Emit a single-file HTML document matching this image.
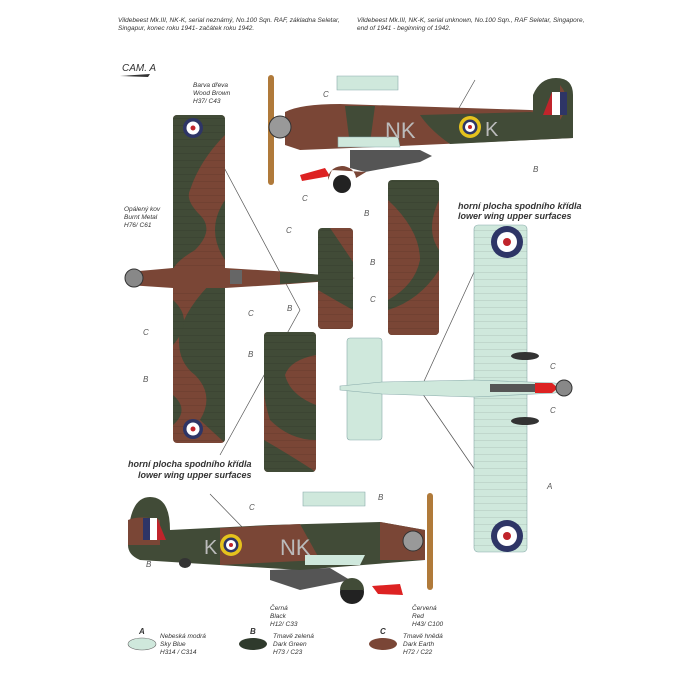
<!DOCTYPE html>
<html><head><meta charset="utf-8"><style>
body{margin:0;background:#fff;}
svg{display:block;font-family:"Liberation Sans",sans-serif;font-style:italic;}
</style></head><body>
<svg width="700" height="700" viewBox="0 0 700 700" xmlns="http://www.w3.org/2000/svg">
<defs>
<clipPath id="lw"><rect x="173" y="115" width="52" height="328" rx="4"/></clipPath>
<clipPath id="rw"><rect x="388" y="180" width="51" height="155" rx="4"/></clipPath>
<clipPath id="mw"><rect x="264" y="332" width="52" height="140" rx="4"/></clipPath>
<clipPath id="tw"><rect x="318" y="228" width="35" height="101" rx="4"/></clipPath>
<pattern id="ribs" width="10" height="7" patternUnits="userSpaceOnUse"><line x1="0" y1="6.5" x2="10" y2="6.5" stroke="#000" stroke-opacity="0.12" stroke-width="0.6"/></pattern>
</defs>
<g font-size="6.5" fill="#333">
<text x="118" y="22">Vildebeest Mk.III, NK-K, serial neznámý, No.100 Sqn. RAF, základna Seletar,</text>
<text x="118" y="30">Singapur, konec roku 1941- začátek roku 1942.</text>
<text x="357" y="22">Vildebeest Mk.III, NK-K, serial unknown, No.100 Sqn., RAF Seletar, Singapore,</text>
<text x="357" y="30">end of 1941 - beginning of 1942.</text>
</g>
<text x="122" y="71" font-size="10" fill="#333">CAM. A</text>
<path d="M120 76 L150 74 L148 77 Z" fill="#333"/>
<g stroke="#555" stroke-width="0.7" fill="none">
<line x1="220" y1="160" x2="300" y2="310"/><line x1="300" y1="310" x2="220" y2="455"/>
<line x1="475" y1="270" x2="420" y2="390"/><line x1="420" y1="390" x2="475" y2="470"/>
<line x1="475" y1="80" x2="455" y2="115"/>
<line x1="210" y1="494" x2="245" y2="530"/>
</g>
<g clip-path="url(#lw)">
<rect x="173" y="115" width="52" height="328" fill="#7a4636"/>
<path d="M173 115 L225 115 L225 135 Q200 160 190 190 Q185 200 200 215 Q215 230 195 250 Q175 262 173 270 Z" fill="#414b37"/>
<path d="M225 200 Q205 230 225 260 Z" fill="#414b37"/>
<path d="M225 270 Q190 300 180 330 Q175 360 195 375 Q215 395 200 420 L225 443 Z" fill="#414b37"/>
<path d="M173 300 Q195 320 173 345 Z" fill="#414b37"/>
<path d="M173 395 Q190 410 173 425 Z" fill="#414b37"/>
<rect x="173" y="115" width="52" height="328" fill="url(#ribs)"/>
</g>
<circle cx="193" cy="128" r="10" fill="#2e3566"/><circle cx="193" cy="128" r="6.5" fill="#fff"/><circle cx="193" cy="128" r="2.5" fill="#c0242b"/>
<circle cx="193" cy="429" r="10" fill="#2e3566"/><circle cx="193" cy="429" r="6.5" fill="#fff"/><circle cx="193" cy="429" r="2.5" fill="#c0242b"/>
<path d="M128 272 L173 268 L225 268 L290 272 L330 276 L355 278 L330 281 L290 284 L225 288 L173 288 L128 285 Z" fill="#7a4636"/>
<path d="M280 272 L340 276 L340 280 L280 284 Z" fill="#414b37"/>
<circle cx="134" cy="278" r="9" fill="#888" stroke="#333"/>
<rect x="230" y="270" width="12" height="14" fill="#666"/>
<g clip-path="url(#tw)">
<rect x="318" y="228" width="35" height="101" fill="#414b37"/>
<path d="M330 228 Q345 250 353 262 L353 228 Z M318 290 Q335 300 353 310 L353 329 L318 329 Z" fill="#7a4636"/>
<rect x="318" y="228" width="35" height="101" fill="url(#ribs)"/>
</g>
<g clip-path="url(#rw)">
<rect x="388" y="180" width="51" height="155" fill="#414b37"/>
<path d="M388 200 Q420 230 420 260 Q415 285 388 300 Z" fill="#7a4636"/>
<path d="M439 200 Q425 230 439 250 Z M388 310 Q420 300 439 270 L439 335 L388 335 Z" fill="#7a4636"/>
<rect x="388" y="180" width="51" height="155" fill="url(#ribs)"/>
</g>
<g clip-path="url(#mw)">
<rect x="264" y="332" width="52" height="140" fill="#7a4636"/>
<path d="M264 332 L316 332 L316 355 Q290 360 285 375 Q290 395 316 405 L316 440 Q290 440 270 420 Q264 400 264 390 Z" fill="#414b37"/>
<path d="M264 440 Q290 455 316 472 L264 472 Z" fill="#414b37"/>
<rect x="264" y="332" width="52" height="140" fill="url(#ribs)"/>
</g>
<!-- blue wing (under fuselage) -->
<rect x="474" y="225" width="53" height="327" rx="4" fill="#cfe8dc" stroke="#8aa" stroke-width="0.6"/>
<rect x="474" y="225" width="53" height="327" fill="url(#ribs)"/>
<circle cx="507" cy="242" r="16" fill="#2e3566"/><circle cx="507" cy="242" r="10" fill="#fff"/><circle cx="507" cy="242" r="4" fill="#c0242b"/>
<circle cx="507" cy="536" r="16" fill="#2e3566"/><circle cx="507" cy="536" r="10" fill="#fff"/><circle cx="507" cy="536" r="4" fill="#c0242b"/>
<rect x="347" y="338" width="35" height="102" rx="3" fill="#cfe8dc" stroke="#8aa" stroke-width="0.6"/>
<path d="M340 386 L382 382 L474 380 L555 383 L570 388 L555 393 L474 397 L382 394 L340 390 Z" fill="#cfe8dc" stroke="#8aa" stroke-width="0.6"/>
<rect x="490" y="384" width="55" height="8" fill="#555"/>
<path d="M535 383 L552 383 L558 388 L552 393 L535 393 Z" fill="#d22"/>
<circle cx="564" cy="388" r="8" fill="#888" stroke="#333"/>
<ellipse cx="525" cy="356" rx="14" ry="4" fill="#333"/>
<ellipse cx="525" cy="421" rx="14" ry="4" fill="#333"/>
<!-- top side view -->
<rect x="268" y="75" width="6" height="110" rx="3" fill="#b07a3a"/>
<path d="M337 76 L398 76 L398 90 L337 90 Z" fill="#cfe8dc" stroke="#8aa" stroke-width="0.6"/>
<path d="M350 150 L420 150 L432 156 L420 162 L365 172 L350 168 Z" fill="#555"/>
<path d="M300 175 L325 168 L330 176 L302 181 Z" fill="#d22"/>
<circle cx="342" cy="184" r="9" fill="#222"/><path d="M328 180 A13 12 0 0 1 356 178 L366 172 L332 170 Z" fill="#7a4636"/>
<path d="M285 112 Q300 104 340 104 L530 110 L573 112 L573 138 L400 146 L300 150 L285 145 Z" fill="#7a4636"/>
<path d="M420 115 L530 112 L573 115 L573 138 L450 144 Q430 130 420 115 Z" fill="#414b37"/>
<path d="M345 106 L375 106 L370 143 L350 145 Z" fill="#414b37"/>
<path d="M533 95 Q540 78 556 78 Q573 78 573 95 L573 120 L533 120 Z" fill="#414b37"/>
<path d="M560 85 Q573 100 560 120 Z" fill="#7a4636"/>
<rect x="552" y="92" width="8" height="23" fill="#fff"/><rect x="560" y="92" width="7" height="23" fill="#2e3566"/><path d="M552 92 L552 115 L543 115 Z" fill="#c0242b"/>
<circle cx="280" cy="127" r="11" fill="#999" stroke="#333"/>
<path d="M338 137 L398 137 L400 147 L338 147 Z" fill="#cfe8dc" stroke="#8aa" stroke-width="0.6"/>
<text x="385" y="138" font-size="22" font-style="normal" fill="#bbb">NK</text>
<circle cx="470" cy="127" r="11" fill="#e5c21d"/><circle cx="470" cy="127" r="7.5" fill="#2e3566"/><circle cx="470" cy="127" r="5" fill="#fff"/><circle cx="470" cy="127" r="2" fill="#c0242b"/>
<text x="485" y="136" font-size="20" font-style="normal" fill="#bbb">K</text>
<!-- bottom side view -->
<path d="M303 492 L365 492 L365 506 L303 506 Z" fill="#cfe8dc" stroke="#8aa" stroke-width="0.6"/>
<path d="M270 570 L330 568 L350 580 L300 590 L270 580 Z" fill="#555"/>
<circle cx="352" cy="592" r="12" fill="#222"/><path d="M340 590 A12 12 0 0 1 364 590 Z" fill="#414b37"/>
<path d="M372 586 L400 584 L403 595 L378 594 Z" fill="#d22"/>
<path d="M128 545 Q128 497 150 497 Q170 497 170 530 L270 525 L380 522 L425 530 L425 560 L300 570 L140 560 Q128 555 128 545 Z" fill="#414b37"/>
<path d="M220 528 L300 524 L320 560 L220 565 Z" fill="#7a4636"/>
<path d="M380 522 L425 530 L425 560 L380 560 Z" fill="#7a4636"/>
<path d="M128 520 Q140 515 160 520 L160 545 L128 545 Z" fill="#7a4636"/>
<rect x="150" y="518" width="7" height="22" fill="#fff"/><rect x="143" y="518" width="7" height="22" fill="#2e3566"/><path d="M157 518 L166 540 L157 540 Z" fill="#c0242b"/>
<circle cx="231" cy="545" r="11" fill="#e5c21d"/><circle cx="231" cy="545" r="7.5" fill="#2e3566"/><circle cx="231" cy="545" r="5" fill="#fff"/><circle cx="231" cy="545" r="2" fill="#c0242b"/>
<text x="204" y="554" font-size="20" font-style="normal" fill="#bbb">K</text>
<text x="280" y="555" font-size="22" font-style="normal" fill="#bbb">NK</text>
<path d="M305 555 L365 555 L360 565 L305 565 Z" fill="#cfe8dc"/>
<circle cx="413" cy="541" r="10" fill="#999" stroke="#333"/>
<rect x="427" y="493" width="6" height="97" rx="3" fill="#b07a3a"/>
<ellipse cx="185" cy="563" rx="6" ry="5" fill="#333"/>
<!-- labels -->
<g font-size="6.5" fill="#333">
<text x="193" y="87">Barva dřeva</text><text x="193" y="95">Wood Brown</text><text x="193" y="103">H37/ C43</text>
<text x="124" y="211">Opálený kov</text><text x="124" y="219">Burnt Metal</text><text x="124" y="227">H76/ C61</text>
<text x="270" y="610">Černá</text><text x="270" y="618">Black</text><text x="270" y="626">H12/ C33</text>
<text x="412" y="610">Červená</text><text x="412" y="618">Red</text><text x="412" y="626">H43/ C100</text>
<text x="160" y="638">Nebeská modrá</text><text x="160" y="646">Sky Blue</text><text x="160" y="654">H314 / C314</text>
<text x="273" y="638">Tmavě zelená</text><text x="273" y="646">Dark Green</text><text x="273" y="654">H73 / C23</text>
<text x="403" y="638">Tmavě hnědá</text><text x="403" y="646">Dark Earth</text><text x="403" y="654">H72 / C22</text>
</g>
<g font-size="9" font-weight="bold" fill="#333">
<text x="458" y="209">horní plocha spodního křídla</text><text x="458" y="219">lower wing upper surfaces</text>
<text x="128" y="467">horní plocha spodního křídla</text><text x="138" y="478">lower wing upper surfaces</text>
</g>
<g font-size="8" font-weight="bold" fill="#333"><text x="139" y="634">A</text><text x="250" y="634">B</text><text x="380" y="634">C</text></g>
<ellipse cx="142" cy="644" rx="14" ry="6" fill="#cfe8dc" stroke="#666" stroke-width="0.6"/>
<ellipse cx="253" cy="644" rx="14" ry="6" fill="#2f3a2c"/>
<ellipse cx="383" cy="644" rx="14" ry="6" fill="#7a4636"/>
<g font-size="8" fill="#555">
<text x="143" y="335">C</text><text x="143" y="382">B</text><text x="286" y="233">C</text><text x="287" y="311">B</text>
<text x="370" y="265">B</text><text x="370" y="302">C</text><text x="248" y="316">C</text><text x="248" y="357">B</text>
<text x="550" y="369">C</text><text x="550" y="413">C</text><text x="547" y="489">A</text>
<text x="323" y="97">C</text><text x="302" y="201">C</text><text x="364" y="216">B</text><text x="533" y="172">B</text>
<text x="146" y="567">B</text><text x="249" y="510">C</text><text x="378" y="500">B</text>
</g>
</svg>
</body></html>
